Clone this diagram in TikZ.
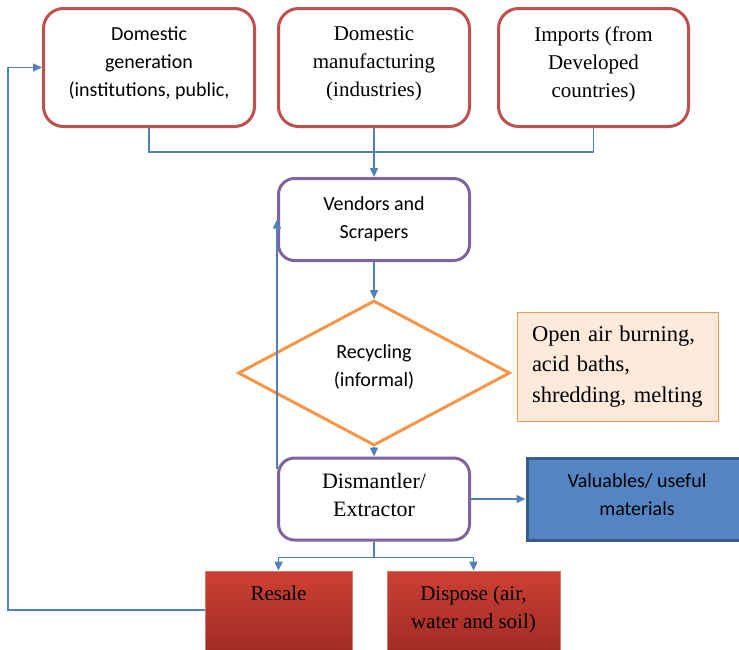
\documentclass[tikz,border=0pt]{standalone}
\usepackage{fontspec}
\setmainfont{Liberation Serif}
\setsansfont{Carlito}
\usetikzlibrary{positioning, shapes.geometric, arrows.meta}

\definecolor{boxred}{RGB}{192,80,77}
\definecolor{boxpurple}{RGB}{128,100,162}
\definecolor{flowblue}{RGB}{79,129,189}
\definecolor{diaorange}{RGB}{247,150,70}
\definecolor{notefill}{RGB}{253,234,218}
\definecolor{valblue}{RGB}{85,132,194}
\definecolor{valedge}{RGB}{56,93,138}
\definecolor{redtop}{RGB}{205,64,52}
\definecolor{redbot}{RGB}{158,42,36}

\tikzset{
  source/.style={draw=boxred, line width=3pt, rounded corners=20pt, fill=white,
    minimum height=118pt, text depth=11pt, align=center},
  stage/.style={draw=boxpurple, line width=3pt, rounded corners=16pt, fill=white,
    minimum width=191pt, minimum height=82pt, align=center},
  decision/.style={diamond, aspect=1.86, draw=diaorange, line width=3pt, fill=white,
    minimum width=272pt, minimum height=145pt, inner sep=0pt, align=center},
  note/.style={draw=diaorange, line width=0.8pt, fill=notefill,
    minimum width=201pt, minimum height=109pt, text width=172pt, align=left},
  outlet/.style={draw=redtop!70!white, line width=0.6pt, top color=redtop, bottom color=redbot,
    minimum height=84pt, align=center},
  line/.style={draw=flowblue, line width=1.5pt},
  flow/.style={line, -{Triangle[length=9pt, width=8pt]}},
  calfont/.style={font=\sffamily\fontsize{20}{28}\selectfont},
  romfont/.style={font=\fontsize{21}{28}\selectfont}
}

\begin{document}
\begin{tikzpicture}[x=1pt, y=-1pt, on grid]
  \useasboundingbox (0,0) rectangle (739,649);

  % sources
  \node[source, romfont, minimum width=191pt] (manu) at (374,67.5)
    {Domestic\\ manufacturing\\ (industries)};
  \node[source, calfont, minimum width=211pt] (gen) [left=225pt of manu]
    {Domestic\\ generation\\ (institutions, public,};
  \node[source, romfont, minimum width=190pt] (imp) [right=219.5pt of manu]
    {Imports (from\\ Developed\\ countries)};

  % chain
  \node[stage, calfont] (vend) [below=152pt of manu] {Vendors and\\ Scrapers};
  \node[decision, calfont, text depth=15pt] (recyc) [below=153.5pt of vend]
    {Recycling\\ (informal)};
  \node[note, font=\fontsize{22.5}{30.5}\selectfont] (meth) [right=244pt of recyc, yshift=6.5pt]
    {Open air burning,\\ acid baths,\\ shredding, melting};
  \node[stage, font=\fontsize{22}{28}\selectfont, text depth=8pt] (dism) [below=126pt of recyc]
    {Dismantler/\\ Extractor};
  \node[draw=valedge, fill=valblue, line width=3pt, minimum width=220pt, minimum height=82pt,
    align=center, calfont, text depth=9pt] (val) [right=263pt of dism]
    {Valuables/ useful\\ materials};

  % outlets
  \node[outlet, minimum width=147pt, romfont, text depth=40pt] (resale)
    [below left=114pt and 95.5pt of dism] {Resale};
  \node[outlet, minimum width=173pt, romfont, text depth=12.5pt] (dispose)
    [below right=114pt and 99.5pt of dism] {Dispose (air,\\ water and soil)};

  % connectors
  \coordinate (join) at ([yshift=-24pt]manu.south);
  \draw[line] (gen.south) |- (join) -| (imp.south);
  \draw[flow] (manu.south) -- (vend.north);
  \draw[flow] (vend.south) -- (recyc.north);
  \draw[flow] (recyc.south) -- (dism.north);
  \draw[flow] (dism.east) -- (val.west);
  \draw[flow] ([yshift=-12pt]dism.north west) -- (vend.west);

  \coordinate (split) at ([yshift=-16pt]dism.south);
  \draw[line] (dism.south) -- (split);
  \draw[flow] (split) -| (resale.north);
  \draw[flow] (split) -| (dispose.north);

  \coordinate (back) at (8,610);
  \draw[flow] (resale.west |- back) -- (back) |- (gen.west);
\end{tikzpicture}
\end{document}
